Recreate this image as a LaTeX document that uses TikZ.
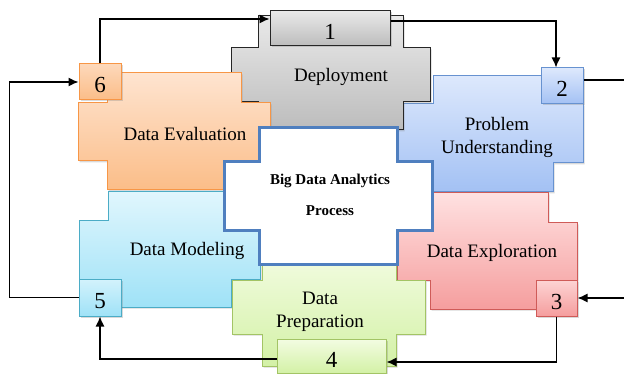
\documentclass[tikz,border=0pt]{standalone}
\usepackage{fontspec}
\setmainfont{Liberation Serif}
\usetikzlibrary{arrows.meta,shadows}
\definecolor{evalline}{HTML}{F79646}
\definecolor{evaltop}{HTML}{FEE4D0}
\definecolor{evalbot}{HTML}{FBBD88}
\definecolor{deptop}{HTML}{E9E9E9}
\definecolor{depbot}{HTML}{BCBCBC}
\definecolor{probline}{HTML}{6792D0}
\definecolor{probtop}{HTML}{DDE8FC}
\definecolor{probbot}{HTML}{A3C1F4}
\definecolor{explline}{HTML}{CF5B58}
\definecolor{expltop}{HTML}{FFE1E1}
\definecolor{explbot}{HTML}{F59E9E}
\definecolor{modline}{HTML}{4BACC6}
\definecolor{modtop}{HTML}{E0F6FD}
\definecolor{modbot}{HTML}{9FE2F7}
\definecolor{prepline}{HTML}{A3C465}
\definecolor{preptop}{HTML}{F3FCE2}
\definecolor{prepbot}{HTML}{D3F1A6}
\definecolor{coreline}{HTML}{4F7FBF}
\newcommand{\plusblock}[9]{%
  \path[#1] (#3,#6) -- (#4,#6) -- (#4,#7) -- (#5,#7) -- (#5,#8) -- (#4,#8)
    -- (#4,#9) -- (#3,#9) -- (#3,#8) -- (#2,#8) -- (#2,#7) -- (#3,#7) -- cycle;}
\tikzset{
  stage/.style={line width=1pt, drop shadow={opacity=0.3,shadow xshift=1.5pt,shadow yshift=-1.5pt}},
  numbox/.style={stage, draw, inner sep=0pt, minimum width=42pt, minimum height=36pt,
    font=\fontsize{23}{26}\selectfont, text height=22pt, text depth=0pt},
  lbl/.style={inner sep=0pt, align=center, font=\fontsize{19}{23}\selectfont},
  link/.style={line width=1.3pt, -{Latex[length=10pt,width=9pt]}}
}
\begin{document}
\begin{tikzpicture}[x=1pt,y=-1pt]
\useasboundingbox (0,0) rectangle (624,374);
\clip (0,0) rectangle (624,374);
\plusblock{stage,draw=probline,top color=probtop,bottom color=probbot}{397}{433}{553}{583}{76}{104}{163}{192}
\plusblock{stage,draw=black!85,top color=deptop,bottom color=depbot}{231}{258}{403}{430}{16}{48}{102}{130}
\plusblock{stage,draw=evalline,top color=evaltop,bottom color=evalbot}{78}{107}{241}{270}{73}{103}{161}{190}
\plusblock{stage,draw=modline,top color=modtop,bottom color=modbot}{79}{108}{231}{260}{192}{221}{279}{307}
\plusblock{stage,draw=explline,top color=expltop,bottom color=explbot}{397}{430}{548}{577}{193}{223}{280}{309}
\plusblock{stage,draw=prepline,top color=preptop,bottom color=prepbot}{232}{262}{396}{425}{252}{280}{334}{366}
\plusblock{draw=coreline,line width=3pt,fill=white}{224}{259}{397}{432}{128}{162}{231}{265}
\node[lbl] (tdep) at (341,77) {Deployment};
\node[lbl] (teval) at (185,134) {Data Evaluation};
\node[lbl] (tprob) at (497,137) {Problem\\Understanding};
\node[lbl] (texpl) at (492,253) {Data Exploration};
\node[lbl] (tmod) at (187,251) {Data Modeling};
\node[lbl] (tprep) at (320,312) {Data\\Preparation};
\node[inner sep=0pt, align=center, font=\fontsize{15}{18}\selectfont\bfseries] (tcore) at (330,195) {Big Data Analytics\\[13pt]Process};
\node[numbox, minimum width=120pt, minimum height=35pt, top color=deptop, bottom color=depbot, draw=black!85] (n1) at (330,28.5) {1};
\node[numbox, draw=probline, top color=probtop, bottom color=probbot] (n2) at (562,86) {2};
\node[numbox, minimum width=41pt, draw=explline, top color=expltop!80!explbot, bottom color=explbot] (n3) at (556.5,298) {3};
\node[numbox, minimum width=109pt, minimum height=34pt, draw=prepline, top color=preptop, bottom color=prepbot] (n4) at (331.5,356) {4};
\node[numbox, minimum height=37pt, draw=modline, top color=modtop!80!modbot, bottom color=modbot] (n5) at (100,297.5) {5};
\node[numbox, draw=evalline, top color=evaltop!70!evalbot, bottom color=evalbot] (n6) at (100,82) {6};
\draw[link] (n6.north) |- ([yshift=9.5pt]n1.west);
\draw[link] ([yshift=7.5pt]n1.east) -| ([xshift=-6pt]n2.north);
\draw[link] ([yshift=6pt]n2.east) -- ++(60,0) |- (n3.east);
\draw[link] (n3.south) |- ([yshift=-6pt]n4.east);
\draw[link] ([yshift=-3pt]n4.west) -| (n5.south);
\draw[link] (n5.west) -- ++(-69,0) |- (n6.west);
\end{tikzpicture}
\end{document}
